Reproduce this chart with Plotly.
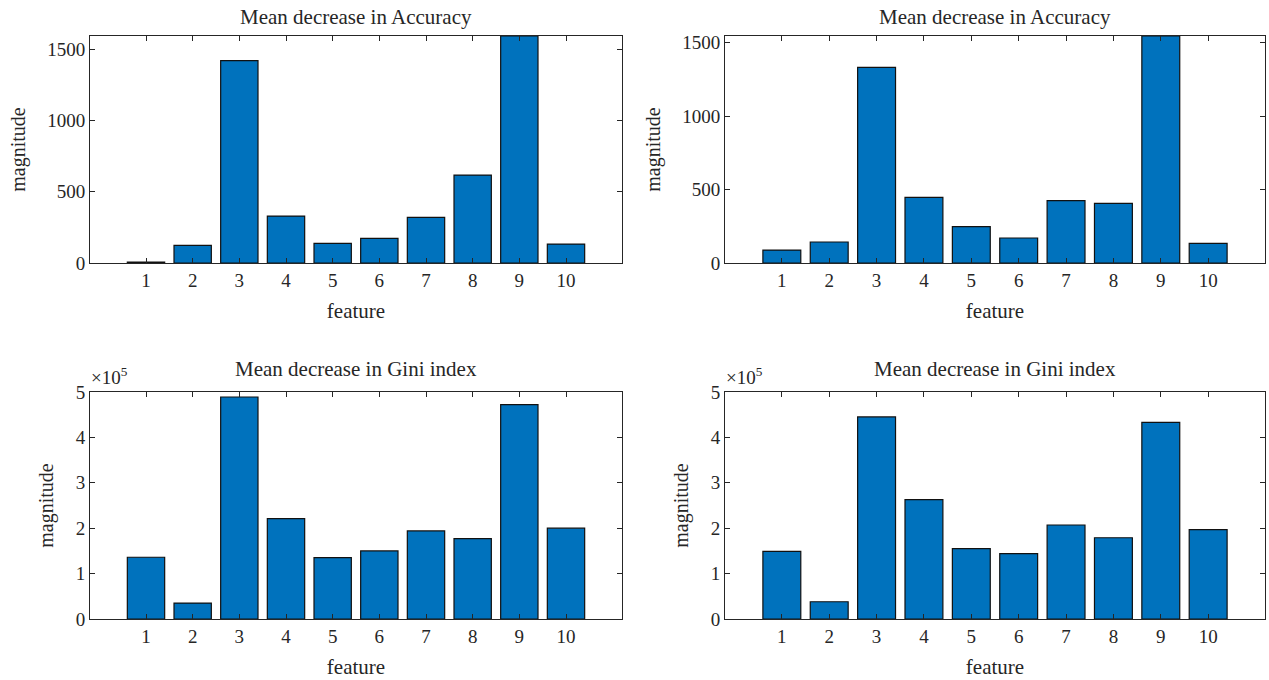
import plotly.graph_objects as go

features = [1, 2, 3, 4, 5, 6, 7, 8, 9, 10]
feature_labels = ["1", "2", "3", "4", "5", "6", "7", "8", "9", "10"]

acc_left = [7, 124, 1420, 329, 138, 173, 320, 617, 1593, 133]
acc_right = [88, 143, 1332, 446, 247, 170, 424, 406, 1545, 134]
gini_left = [1.36e5, 0.35e5, 4.89e5, 2.21e5, 1.35e5, 1.50e5, 1.94e5, 1.77e5, 4.72e5, 2.00e5]
gini_right = [1.49e5, 0.38e5, 4.45e5, 2.63e5, 1.55e5, 1.44e5, 2.07e5, 1.79e5, 4.33e5, 1.97e5]

acc_ticks = [0, 500, 1000, 1500]
acc_ticktext = ["0", "500", "1000", "1500"]
gini_ticks = [0, 1e5, 2e5, 3e5, 4e5, 5e5]
gini_ticktext = ["0", "1", "2", "3", "4", "5"]

title_acc = "Mean decrease in Accuracy"
title_gini = "Mean decrease in Gini index"

W, H = 1269, 680
FONT = "Liberation Serif, Times New Roman, serif"
TXT = "#262626"
BAR = "#0072BD"

# panel boxes in pixels: (left, right, top, bottom)
boxes = [
    (90, 622, 36, 263),
    (725, 1265, 36, 263),
    (90, 622, 392, 619),
    (725, 1265, 392, 619),
]
data = [acc_left, acc_right, gini_left, gini_right]
titles = [title_acc, title_acc, title_gini, title_gini]

fig = go.Figure()
annotations = []
for i, (vals, box, ttl) in enumerate(zip(data, boxes, titles)):
    n = i + 1
    xa = "x" if n == 1 else f"x{n}"
    ya = "y" if n == 1 else f"y{n}"
    fig.add_trace(go.Bar(
        x=features, y=vals, xaxis=xa, yaxis=ya, width=0.8,
        marker=dict(color=BAR, line=dict(color="#111111", width=1.2)),
        showlegend=False,
    ))
    l, r, t, b = box
    xdom = [l / W, r / W]
    ydom = [1 - b / H, 1 - t / H]
    is_gini = i >= 2
    ymax = 5e5 if is_gini else max(vals)
    xkey = "xaxis" if n == 1 else f"xaxis{n}"
    ykey = "yaxis" if n == 1 else f"yaxis{n}"
    axcommon = dict(
        showline=True, linecolor=TXT, linewidth=1, mirror="ticks",
        ticks="inside", ticklen=5, tickcolor=TXT, tickwidth=1,
        showgrid=False, zeroline=False, automargin=False,
        tickfont=dict(family=FONT, size=19, color=TXT),
    )
    fig.update_layout(**{
        xkey: dict(
            domain=xdom, anchor=ya, range=[-0.2, 11.2],
            tickmode="array", tickvals=features, ticktext=feature_labels,
            title=dict(text="feature", font=dict(family=FONT, size=21, color=TXT), standoff=13),
            **axcommon,
        ),
        ykey: dict(
            domain=ydom, anchor=xa, range=[0, ymax],
            tickmode="array",
            tickvals=gini_ticks if is_gini else acc_ticks,
            ticktext=gini_ticktext if is_gini else acc_ticktext,
            title=dict(text="magnitude", font=dict(family=FONT, size=20, color=TXT), standoff=16),
            **axcommon,
        ),
    })
    annotations.append(dict(
        text=ttl, xref="paper", yref="paper",
        x=(xdom[0] + xdom[1]) / 2, y=ydom[1], yshift=9 if is_gini else 5,
        xanchor="center", yanchor="bottom", showarrow=False,
        font=dict(family=FONT, size=21, color=TXT),
    ))
    if is_gini:
        annotations.append(dict(
            text="×10<sup>5</sup>", xref="paper", yref="paper",
            x=xdom[0], y=ydom[1], yshift=2, xshift=-1,
            xanchor="left", yanchor="bottom", showarrow=False,
            font=dict(family=FONT, size=19, color=TXT),
        ))

fig.update_layout(
    width=W, height=H,
    margin=dict(l=0, r=0, t=0, b=0, autoexpand=False),
    plot_bgcolor="white", paper_bgcolor="white",
    font=dict(family=FONT, color=TXT),
    annotations=annotations,
    bargap=0.2,
)

fig.write_html(
    "out.html",
    config={"displayModeBar": False},
    post_script="document.body.style.margin='0';document.body.style.overflow='hidden';",
)
